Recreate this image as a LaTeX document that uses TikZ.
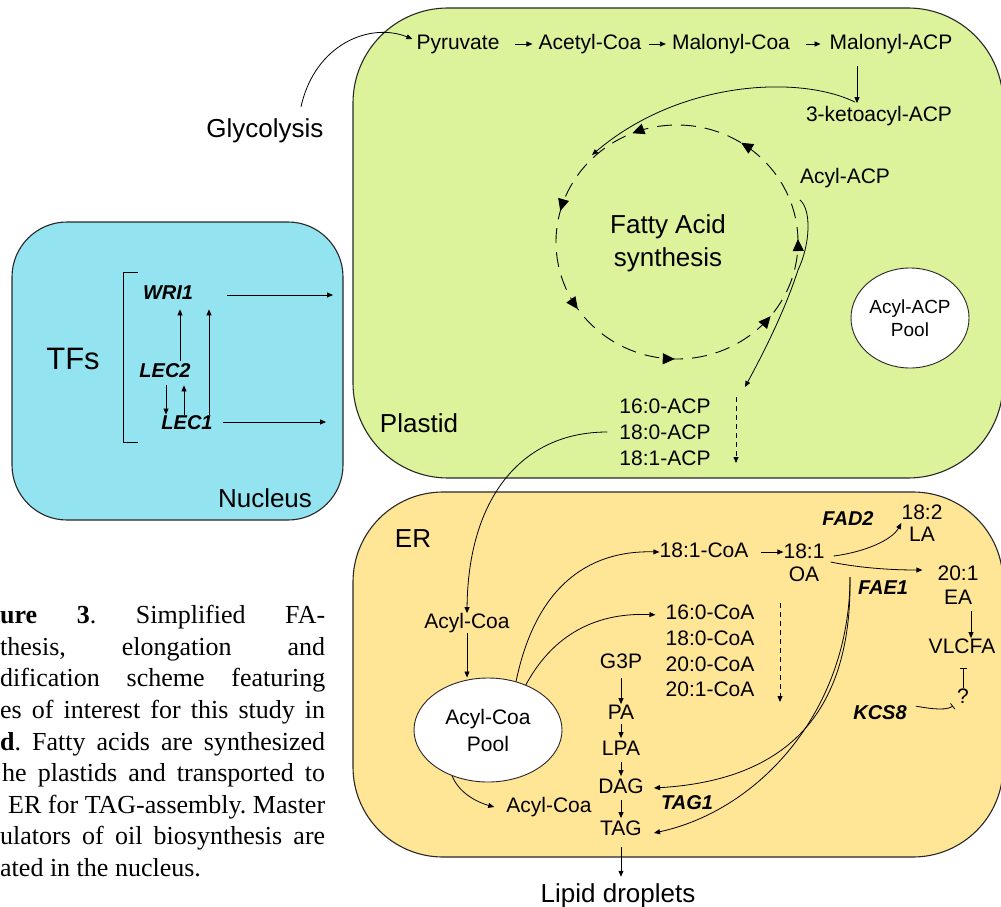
\documentclass[tikz,border=0pt]{standalone}
\usepackage{fontspec}
\setmainfont{Liberation Sans}
\newfontfamily\capfont{Liberation Serif}
\usetikzlibrary{arrows.meta,decorations.markings,shapes.geometric}
\definecolor{plastidc}{RGB}{220,242,155}
\definecolor{erc}{RGB}{255,229,150}
\definecolor{nucc}{RGB}{147,227,240}
\definecolor{edgec}{RGB}{40,40,40}
\begin{document}
\begin{tikzpicture}[x=1pt,y=-1pt,
  comp/.style={draw=edgec, line width=1.1pt},
  txt/.style={inner sep=0pt, font=\fontsize{21}{25}\selectfont, text height=15pt, text depth=4.4pt},
  txtm/.style={inner sep=0pt, align=center},
  big/.style={inner sep=0pt, font=\fontsize{26}{33}\selectfont, text height=18.6pt, text depth=5.5pt},
  bigm/.style={inner sep=0pt, align=center, font=\fontsize{26}{33}\selectfont},
  gene/.style={inner sep=0pt, font=\fontsize{20}{24}\selectfont\bfseries\itshape, text height=14.4pt, text depth=0pt},
  pool/.style={ellipse, draw=edgec, fill=white, line width=0.9pt, inner sep=0pt, align=center},
  arr/.style={line width=0.8pt, -{Triangle[length=6pt,width=5pt]}},
  darr/.style={line width=0.8pt, dash pattern=on 5pt off 4pt, -{Triangle[length=6pt,width=5pt]}},
  inh/.style={line width=0.8pt, -{Bar[width=7pt]}},
  captxt/.style={anchor=west, inner sep=0pt, font=\capfont\fontsize{26}{31}\selectfont\frenchspacing, text height=18pt, text depth=6pt},
  cyctip/.tip={Triangle[length=12pt,width=11pt]}
]
\useasboundingbox (0,0) rectangle (1001,907);

% compartments
\draw[comp, fill=plastidc, rounded corners=95pt] (353,8) rectangle (1003,478);
\draw[comp, fill=erc, rounded corners=90pt] (353,492) rectangle (1003,857);
\draw[comp, fill=nucc, rounded corners=55pt] (12,222) rectangle (343,520);

% caption (cut off on the left)
\node[captxt] (cap1) at (0,617) {\makebox[325pt][s]{\textbf{ure} \textbf{3}. Simplified FA-}};
\node[captxt] (cap2) at (0,649) {\makebox[325pt][s]{thesis, elongation and}};
\node[captxt] (cap3) at (0,680) {\makebox[325pt][s]{dification scheme featuring}};
\node[captxt] (cap4) at (0,712) {\makebox[325pt][s]{es of interest for this study in}};
\node[captxt] (cap5) at (0,744) {\makebox[325pt][s]{\textbf{d}. Fatty acids are synthesized}};
\node[captxt] (cap6) at (2,775) {\makebox[323pt][s]{he plastids and transported to}};
\node[captxt] (cap7) at (8,807) {\makebox[317pt][s]{ER for TAG-assembly. Master}};
\node[captxt] (cap8) at (0,838) {\makebox[325pt][s]{ulators of oil biosynthesis are}};
\node[captxt] (cap9) at (0,870) {ated in the nucleus.};

% nucleus
\node[inner sep=0pt, font=\fontsize{31}{36}\selectfont] (tfs) at (73,359) {TFs};
\draw[line width=0.9pt] (138,272) -- (123,272) -- (123,442) -- (138,442);
\node[gene] (wri1) at (168,292) {WRI1};
\node[gene] (lec2) at (165,370) {LEC2};
\node[gene] (lec1) at (187,422) {LEC1};
\node[big] (nucleus) at (265,501) {Nucleus};
\coordinate (out1) at (333,295);
\coordinate (out2) at (326,422);
\draw[arr, shorten <=34pt] ([yshift=-3pt]wri1.east) -- (out1);
\draw[arr, shorten <=10pt] (lec1.east) -- (out2);
\draw[arr, shorten <=2pt, shorten >=8pt] ([xshift=15pt]lec2.north) -- ([xshift=12pt,yshift=-2pt]wri1.south);
\draw[arr, shorten >=8pt] ([xshift=22pt]lec1.north) -- ([xshift=41pt,yshift=-2pt]wri1.south);
\draw[arr, shorten <=8pt] ([xshift=1pt]lec2.south) -- ([xshift=-21pt]lec1.north);
\draw[arr, shorten >=8pt] ([xshift=-3pt]lec1.north) -- ([xshift=19pt]lec2.south);

% plastid
\node[big] (glyc) at (265,131) {Glycolysis};
\node[txt] (pyr) at (458,44) {Pyruvate};
\node[txt] (acoa) at (590,44) {Acetyl-Coa};
\node[txt] (mcoa) at (731,44) {Malonyl-Coa};
\node[txt] (macp) at (891,44) {Malonyl-ACP};
\node[txt] (keto) at (879,116) {3-ketoacyl-ACP};
\node[txt] (acylacp) at (845,178) {Acyl-ACP};
\node[bigm] (fas) at (668,243) {Fatty Acid\\synthesis};
\node[pool, minimum width=118pt, minimum height=100pt, font=\fontsize{19}{23}\selectfont] (acppool) at (910,318) {Acyl-ACP\\Pool};
\node[txtm, font=\fontsize{21}{26}\selectfont] (acplist) at (665,432) {16:0-ACP\\18:0-ACP\\18:1-ACP};
\node[big] (plastid) at (419,426) {Plastid};

\draw[arr] ([xshift=36pt,yshift=12pt]glyc.north) .. controls +(14,-63) and +(-42,-17) .. ([xshift=-4pt,yshift=5pt]pyr.west);
\draw[arr, shorten <=15pt, shorten >=6pt] (pyr.east) -- (acoa.west);
\draw[arr, shorten <=7pt, shorten >=6pt] (acoa.east) -- (mcoa.west);
\draw[arr, shorten <=16pt, shorten >=9pt] (mcoa.east) -- (macp.west);
\draw[arr, shorten <=12pt, shorten >=3pt] ([xshift=-34pt]macp.south) -- ([xshift=-22pt]keto.north);

\coordinate (cycin) at (592,155);
\draw[arr] ([xshift=-24pt,yshift=4pt]keto.north) .. controls (800,75) and (680,80) .. (cycin);

\begin{scope}[shift={(677,242)}, y=1pt]
\draw[line width=0.9pt, dash pattern=on 15pt off 9pt,
  postaction={decorate},
  decoration={markings,
    mark=at position 0.004 with {\arrow{cyctip}},
    mark=at position 0.16 with {\arrow{cyctip}},
    mark=at position 0.311 with {\arrow{cyctip}},
    mark=at position 0.458 with {\arrow{cyctip}},
    mark=at position 0.596 with {\arrow{cyctip}},
    mark=at position 0.747 with {\arrow{cyctip}},
    mark=at position 0.892 with {\arrow{cyctip}}}]
  (0,0) ellipse [x radius=121, y radius=117];
\end{scope}

\coordinate (acpend) at (745,387);
\draw[arr] ([yshift=-12pt]acylacp.south west) .. controls (812,210) and (810,245) .. (798,270) .. controls (785,310) and (765,350) .. (acpend);
\coordinate (acpd1) at (736,397);
\coordinate (acpd2) at (736,463);
\draw[darr] (acpd1) -- (acpd2);

% ER
\node[big] (er) at (413,541) {ER};
\node[txt] (acyltop) at (467,623) {Acyl-Coa};
\node[pool, minimum width=148pt, minimum height=104pt, font=\fontsize{21}{27}\selectfont] (coapool) at (488,730) {Acyl-Coa\\Pool};
\node[txt] (c181) at (704,552) {18:1-CoA};
\node[txtm, font=\fontsize{21}{23}\selectfont] (oa) at (804,563) {18:1\\OA};
\node[txtm, font=\fontsize{21}{22}\selectfont] (la) at (922,523) {18:2\\LA};
\node[gene] (fad2) at (848,518) {FAD2};
\node[gene] (fae1) at (883,587) {FAE1};
\node[txtm, font=\fontsize{21}{24}\selectfont] (ea) at (958,585) {20:1\\EA};
\node[txt] (vlcfa) at (962,648) {VLCFA};
\node[txt] (q) at (963,698) {?};
\node[gene] (kcs8) at (880,712) {KCS8};
\node[txtm, font=\fontsize{21}{25.7}\selectfont] (coalist) at (710,651) {16:0-CoA\\18:0-CoA\\20:0-CoA\\20:1-CoA};
\node[txt] (g3p) at (621,663) {G3P};
\node[txt] (pa) at (621,714) {PA};
\node[txt] (lpa) at (621,750) {LPA};
\node[txt] (dag) at (621,788) {DAG};
\node[txt] (tag) at (621,830) {TAG};
\node[gene] (tag1) at (687,802) {TAG1};
\node[txt] (acylbot) at (549,807) {Acyl-Coa};
\node[big] (lipid) at (618,896) {Lipid droplets};

\draw[arr] ([xshift=-12pt]acplist.west) .. controls (520,432) and (468,500) .. (acyltop.north);
\draw[arr] (acyltop.south) -- (acyltop.south |- coapool.north);
\draw[arr] (coapool.60) .. controls (535,590) and (585,550) .. (c181.west);
\draw[arr] (coapool.50) .. controls (550,640) and (590,612) .. ([xshift=-10pt,yshift=-10pt]coalist.north west);
\draw[arr, shorten <=12pt] (c181.east) -- ([yshift=11pt]oa.west);
\draw[arr] ([xshift=9pt,yshift=7pt]oa.east) .. controls (865,552) and (892,540) .. (la.west);
\draw[arr] ([xshift=6pt,yshift=1pt]oa.east) .. controls (850,566) and (880,570) .. ([xshift=-15pt,yshift=15pt]ea.west);
\draw[arr, shorten <=6pt] ([xshift=13pt]ea.south) -- ([xshift=9pt]vlcfa.north);
\draw[inh, shorten >=10pt] (q.north) -- (q.north |- vlcfa.south);
\draw[inh, shorten <=9pt] ([yshift=7pt]kcs8.east) .. controls +(15,2) and +(-8,6) .. ([xshift=-4pt,yshift=-8pt]q.west);
\coordinate (coad1) at (780,603);
\coordinate (coad2) at (780,702);
\draw[darr] (coad1) -- (coad2);

\draw[arr, shorten <=5pt] (g3p.south) -- (pa.north);
\draw[arr, shorten >=2pt] (pa.south) -- (lpa.north);
\draw[arr, shorten <=2pt, shorten >=2pt] (lpa.south) -- (dag.north);
\draw[arr, shorten <=2pt, shorten >=2pt] (dag.south) -- (tag.north);
\draw[arr, shorten <=7pt, shorten >=7pt] (tag.south) -- (tag.south |- lipid.north);
\draw[arr] (coapool.232) .. controls (460,795) and (480,803) .. ([xshift=-12pt]acylbot.west);

\coordinate (faestart) at (850,577);
\draw[arr] (faestart) .. controls (852,710) and (790,780) .. ([xshift=10pt]dag.east);
\draw[arr] (faestart) .. controls (850,710) and (760,810) .. ([xshift=12pt,yshift=-3pt]tag.east);
\end{tikzpicture}
\end{document}
